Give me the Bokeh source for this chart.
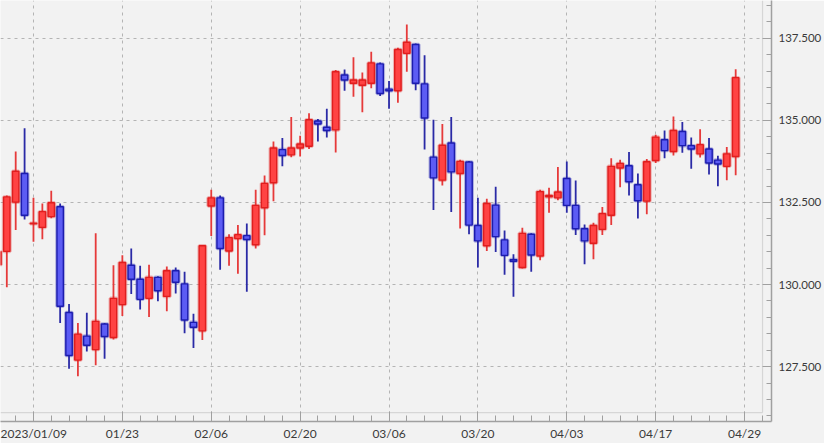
import numpy as np
from bokeh.plotting import figure
from bokeh.models import Range1d, FixedTicker, NumeralTickFormatter, ColumnDataSource
from bokeh.embed import file_html
from bokeh.resources import INLINE

# ---- data (USD/JPY daily) ----
dates = ["01/03", "01/04", "01/05", "01/06", "01/09", "01/10", "01/11", "01/12", "01/13",
         "01/16", "01/17", "01/18", "01/19", "01/20", "01/23", "01/24", "01/25", "01/26", "01/27",
         "01/30", "01/31", "02/01", "02/02", "02/03", "02/06", "02/07", "02/08", "02/09", "02/10",
         "02/13", "02/14", "02/15", "02/16", "02/17", "02/20", "02/21", "02/22", "02/23", "02/24",
         "02/27", "02/28", "03/01", "03/02", "03/03", "03/06", "03/07", "03/08", "03/09", "03/10",
         "03/13", "03/14", "03/15", "03/16", "03/17", "03/20", "03/21", "03/22", "03/23", "03/24",
         "03/27", "03/28", "03/29", "03/30", "03/31", "04/03", "04/04", "04/05", "04/06", "04/07",
         "04/10", "04/11", "04/12", "04/13", "04/14", "04/17", "04/18", "04/19", "04/20", "04/21",
         "04/24", "04/25", "04/26", "04/27", "04/28"]

opens = [130.60, 131.01, 132.51, 133.38, 131.85, 131.74, 132.07, 132.37, 129.15,
         127.70, 128.43, 128.02, 128.80, 128.39, 129.39, 130.59, 130.16, 129.58, 130.22,
         129.64, 130.42, 130.02, 128.85, 128.59, 132.39, 132.64, 131.02, 131.40, 131.49,
         131.21, 132.34, 133.10, 134.11, 133.95, 134.16, 134.21, 134.98, 134.79, 134.71,
         136.38, 136.13, 136.07, 136.13, 136.72, 135.95, 135.90, 137.04, 137.31, 136.11,
         133.88, 133.18, 134.31, 133.38, 133.73, 131.80, 131.18, 132.42, 131.36, 130.76,
         130.52, 131.53, 130.87, 132.67, 132.64, 133.23, 132.41, 131.70, 131.26, 131.68,
         132.11, 133.55, 133.62, 133.04, 132.54, 133.78, 134.41, 134.05, 134.66, 134.23,
         133.98, 134.13, 133.79, 133.60, 133.90]

highs = [131.40, 132.71, 134.05, 134.76, 132.64, 132.47, 132.86, 132.47, 129.41,
         128.83, 129.14, 131.56, 128.83, 130.59, 130.89, 131.10, 130.57, 130.60, 130.25,
         130.55, 130.52, 130.39, 129.11, 131.20, 132.89, 132.71, 131.53, 131.81, 131.86,
         132.89, 133.32, 134.36, 134.46, 135.10, 134.53, 135.22, 135.04, 135.35, 136.53,
         136.55, 136.92, 136.46, 137.09, 136.76, 136.20, 137.21, 137.92, 137.34, 136.98,
         135.02, 134.89, 135.10, 133.80, 133.76, 132.64, 132.61, 132.98, 131.65, 130.92,
         131.73, 131.56, 132.89, 132.95, 133.58, 133.75, 133.17, 131.83, 131.88, 132.36,
         133.85, 133.80, 134.04, 133.38, 133.82, 134.56, 134.69, 135.12, 134.95, 134.48,
         134.73, 134.46, 133.92, 134.19, 136.56]

lows = [129.50, 129.92, 131.66, 131.98, 131.30, 131.38, 132.02, 128.83, 127.44,
        127.21, 127.96, 127.54, 127.74, 128.33, 129.04, 129.71, 129.24, 129.01, 129.49,
        129.19, 129.73, 128.52, 128.07, 128.31, 131.48, 130.45, 130.57, 130.33, 129.78,
        131.10, 131.50, 132.54, 133.60, 133.88, 133.90, 134.13, 134.36, 134.48, 134.02,
        135.90, 135.72, 135.25, 135.98, 135.74, 135.35, 135.54, 136.48, 135.92, 134.11,
        132.27, 133.02, 132.21, 131.71, 131.53, 130.52, 131.02, 130.99, 130.30, 129.63,
        130.49, 130.39, 130.74, 132.19, 132.57, 132.19, 131.51, 130.62, 130.77, 131.51,
        131.81, 132.96, 132.71, 132.01, 132.14, 133.70, 133.85, 133.93, 134.01, 133.53,
        133.87, 133.35, 132.99, 133.18, 133.33]

closes = [131.00, 132.67, 133.45, 132.11, 131.87, 132.22, 132.49, 129.34, 127.84,
          128.49, 128.15, 128.88, 128.42, 129.58, 130.67, 130.16, 129.55, 130.22, 129.81,
          130.42, 130.07, 128.92, 128.70, 131.18, 132.64, 131.10, 131.43, 131.52, 131.37,
          132.41, 133.08, 134.16, 133.93, 134.16, 134.28, 135.02, 134.89, 134.69, 136.48,
          136.23, 136.23, 136.23, 136.75, 135.82, 135.90, 137.16, 137.38, 136.13, 135.07,
          133.25, 134.24, 133.43, 133.75, 131.81, 131.33, 132.47, 131.46, 130.89, 130.71,
          131.56, 130.90, 132.83, 132.71, 132.82, 132.41, 131.70, 131.33, 131.80, 132.16,
          133.60, 133.69, 133.13, 132.55, 133.74, 134.49, 134.08, 134.69, 134.23, 134.13,
          134.26, 133.70, 133.67, 133.98, 136.30]

tick_labels = ["2023/01/09", "01/23", "02/06", "02/20", "03/06", "03/20", "04/03", "04/17", "04/29"]
first_tick = dates.index("01/09")
tick_step = 10  # trading days between labelled ticks

# ---- styling / layout constants ----
X_RANGE = (0.29, 87.03)
Y_RANGE = (125.83, 138.65)
BORDER_X = 86.02
BORDER_Y = 126.10
BG = "#f2f2f2"
UP_FILL, UP_LINE, UP_WICK = "#ff4343", "#e01e1e", "#e63a3a"
DN_FILL, DN_LINE, DN_WICK = "#5c5cf4", "#1c1cae", "#2a2aa6"
AXIS_COLOR = "#a0a0a0"
GRID_COLOR = "#b4b4b4"
TEXT_COLOR = "#3a3a3a"

xs = list(range(len(dates)))
up = [c >= o for o, c in zip(opens, closes)]
src = ColumnDataSource(dict(
    x=xs, date=dates, open=opens, high=highs, low=lows, close=closes,
    top=[max(o, c) for o, c in zip(opens, closes)],
    bottom=[min(o, c) for o, c in zip(opens, closes)],
    fill=[UP_FILL if u else DN_FILL for u in up],
    line=[UP_LINE if u else DN_LINE for u in up],
    wick=[UP_WICK if u else DN_WICK for u in up],
))

p = figure(width=824, height=443, output_backend="svg", toolbar_location=None,
           x_range=Range1d(*X_RANGE), y_range=Range1d(*Y_RANGE),
           y_axis_location="right", x_axis_label=None, y_axis_label=None,
           min_border_left=0, min_border_top=0, min_border_right=52, min_border_bottom=20)
p.background_fill_color = BG
p.border_fill_color = BG
p.outline_line_color = None

# ticks / axes
xt = FixedTicker(ticks=[first_tick + tick_step * k for k in range(len(tick_labels))],
                 minor_ticks=list(range(0, int(X_RANGE[1]) + 1, 2)))
p.xaxis.ticker = xt
p.xgrid.ticker = xt
p.xaxis.major_label_overrides = {first_tick + tick_step * k: lab for k, lab in enumerate(tick_labels)}

yt = FixedTicker(ticks=list(np.arange(127.5, Y_RANGE[1], 2.5)),
                 minor_ticks=list(np.arange(126.0, Y_RANGE[1], 0.5)))
p.yaxis.ticker = yt
p.ygrid.ticker = yt
p.yaxis.formatter = NumeralTickFormatter(format="0.000")

for ax in (p.xaxis, p.yaxis):
    ax.axis_label = None
    ax.axis_line_color = AXIS_COLOR
    ax.axis_line_width = 1.5
    ax.major_tick_line_color = AXIS_COLOR
    ax.minor_tick_line_color = AXIS_COLOR
    ax.major_tick_out = 0
    ax.minor_tick_out = 0
    ax.major_label_text_font = "Lato"
    ax.major_label_text_color = TEXT_COLOR
p.xaxis.major_label_text_font_size = "12px"
p.yaxis.major_label_text_font_size = "11.5px"
p.xaxis.major_tick_in = 10
p.xaxis.minor_tick_in = 6
p.yaxis.major_tick_in = 9
p.yaxis.minor_tick_in = 5
p.xaxis.major_label_standoff = 4
p.yaxis.major_label_standoff = 7

for g in (p.xgrid, p.ygrid):
    g.grid_line_color = GRID_COLOR
    g.grid_line_dash = "3 4"
    g.grid_line_width = 1

# inner frame border
p.segment(x0=[X_RANGE[0], BORDER_X], y0=[BORDER_Y, BORDER_Y],
          x1=[BORDER_X, BORDER_X], y1=[BORDER_Y, Y_RANGE[1]],
          line_color="#d6d6d6", line_width=1.2)

# candles
p.segment(x0="x", y0="high", x1="x", y1="low", source=src, line_color="wick", line_width=1.8)
p.vbar(x="x", width=0.72, top="top", bottom="bottom", source=src,
       fill_alpha=0, line_color="line", line_alpha=0.3, line_width=3.5)
p.vbar(x="x", width=0.72, top="top", bottom="bottom", source=src,
       fill_color="fill", line_color="line", line_width=1.4)

open("out.html", "w").write(file_html(p, INLINE))
